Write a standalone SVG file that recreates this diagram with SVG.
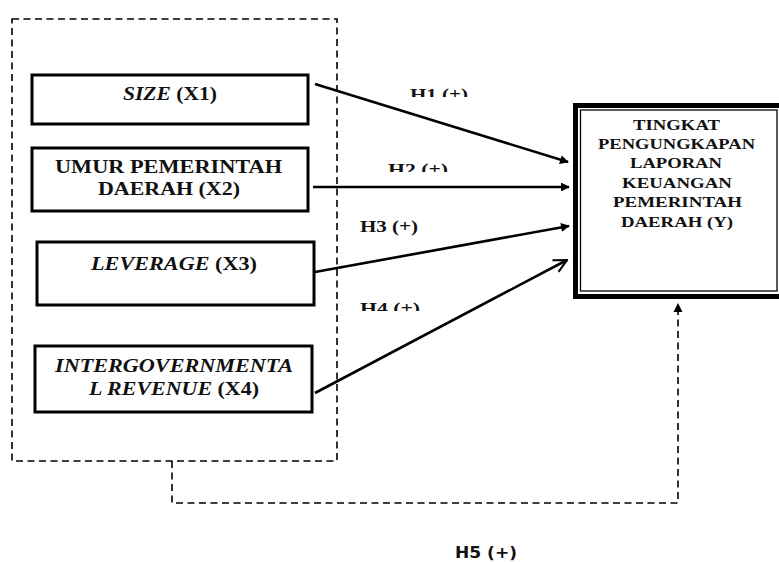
<svg xmlns="http://www.w3.org/2000/svg" width="779" height="562" viewBox="0 0 779 562">
<style>
.box{fill:#fff;stroke:#000;stroke-width:3}
.dash{fill:none;stroke:#000;stroke-width:1.6;stroke-dasharray:7 4.5}
.arr{fill:none;stroke:#000;stroke-width:2.6}
.t{font-family:"Liberation Serif","Times New Roman",serif;font-weight:bold;fill:#111}
.s{font-family:"DejaVu Sans",Verdana,sans-serif;font-weight:bold;fill:#111}
</style>
<defs>
<marker id="tri" viewBox="0 0 10 10" refX="9" refY="5" markerWidth="4.2" markerHeight="3.4" orient="auto" markerUnits="strokeWidth">
<path d="M0,0 L10,5 L0,10 Z" fill="#000"/>
</marker>
<marker id="vee" viewBox="0 0 12 12" refX="11" refY="6" markerWidth="6" markerHeight="6" orient="auto" markerUnits="strokeWidth">
<path d="M1,1 L11,6 L1,11" fill="none" stroke="#000" stroke-width="1.6"/>
</marker>
<clipPath id="c1"><rect x="380" y="80" width="120" height="17"/></clipPath>
<clipPath id="c2"><rect x="370" y="155" width="120" height="17"/></clipPath>
<clipPath id="c4"><rect x="350" y="295" width="120" height="16"/></clipPath>
</defs>

<g id="group-box">
<rect class="dash" x="12" y="19" width="325" height="442"/>
</g>

<g id="x1">
<rect class="box" x="32" y="75" width="276" height="49"/>
<text class="t" x="123" y="100" font-size="19" textLength="94" lengthAdjust="spacingAndGlyphs"><tspan font-style="italic">SIZE</tspan> (X1)</text>
</g>

<g id="x2">
<rect class="box" x="32" y="148" width="276" height="63"/>
<text class="t" x="55" y="173" font-size="19" textLength="227" lengthAdjust="spacingAndGlyphs">UMUR PEMERINTAH</text>
<text class="t" x="98" y="195" font-size="19" textLength="142" lengthAdjust="spacingAndGlyphs">DAERAH (X2)</text>
</g>

<g id="x3">
<rect class="box" x="37" y="242" width="277" height="63"/>
<text class="t" x="91" y="270" font-size="19" textLength="166" lengthAdjust="spacingAndGlyphs"><tspan font-style="italic">LEVERAGE</tspan> (X3)</text>
</g>

<g id="x4">
<rect class="box" x="35" y="346" width="277" height="66"/>
<text class="t" x="55" y="372" font-size="19" font-style="italic" textLength="238" lengthAdjust="spacingAndGlyphs">INTERGOVERNMENTA</text>
<text class="t" x="89" y="395" font-size="19" textLength="170" lengthAdjust="spacingAndGlyphs"><tspan font-style="italic">L REVENUE</tspan> (X4)</text>
</g>

<g id="y">
<rect x="575.5" y="105.5" width="212" height="191" fill="#fff" stroke="#000" stroke-width="5"/>
<rect x="580.5" y="110" width="196.5" height="181" fill="none" stroke="#000" stroke-width="1.3"/>
<text class="t" x="633" y="130" font-size="15" textLength="87" lengthAdjust="spacingAndGlyphs">TINGKAT</text>
<text class="t" x="598" y="149" font-size="15" textLength="157" lengthAdjust="spacingAndGlyphs">PENGUNGKAPAN</text>
<text class="t" x="630" y="168" font-size="15" textLength="92" lengthAdjust="spacingAndGlyphs">LAPORAN</text>
<text class="t" x="622" y="188" font-size="15" textLength="110" lengthAdjust="spacingAndGlyphs">KEUANGAN</text>
<text class="t" x="613" y="207" font-size="15" textLength="129" lengthAdjust="spacingAndGlyphs">PEMERINTAH</text>
<text class="t" x="621" y="227" font-size="15" textLength="112" lengthAdjust="spacingAndGlyphs">DAERAH (Y)</text>
</g>

<g id="connectors">
<line class="arr" x1="315" y1="84" x2="568" y2="162" marker-end="url(#tri)"/>
<line class="arr" x1="313" y1="187" x2="569" y2="187" marker-end="url(#tri)"/>
<line class="arr" x1="315" y1="272" x2="569" y2="226" marker-end="url(#tri)"/>
<line class="arr" x1="315" y1="393" x2="567" y2="260" marker-end="url(#vee)"/>
<path class="dash" d="M172,461 V503 H678 V312"/>
<path d="M673.5,312 L678,303 L682.5,312 Z" fill="#000"/>
</g>

<g id="labels">
<text class="t" x="410" y="100" font-size="16" textLength="58" lengthAdjust="spacingAndGlyphs" clip-path="url(#c1)">H1 (+)</text>
<text class="t" x="388" y="175" font-size="16" textLength="60" lengthAdjust="spacingAndGlyphs" clip-path="url(#c2)">H2 (+)</text>
<text class="t" x="360" y="232" font-size="16" textLength="58" lengthAdjust="spacingAndGlyphs">H3 (+)</text>
<text class="t" x="360" y="314" font-size="16" textLength="60" lengthAdjust="spacingAndGlyphs" clip-path="url(#c4)">H4 (+)</text>
<text class="s" x="455" y="558" font-size="15" textLength="62" lengthAdjust="spacingAndGlyphs">H5 (+)</text>
</g>
</svg>
